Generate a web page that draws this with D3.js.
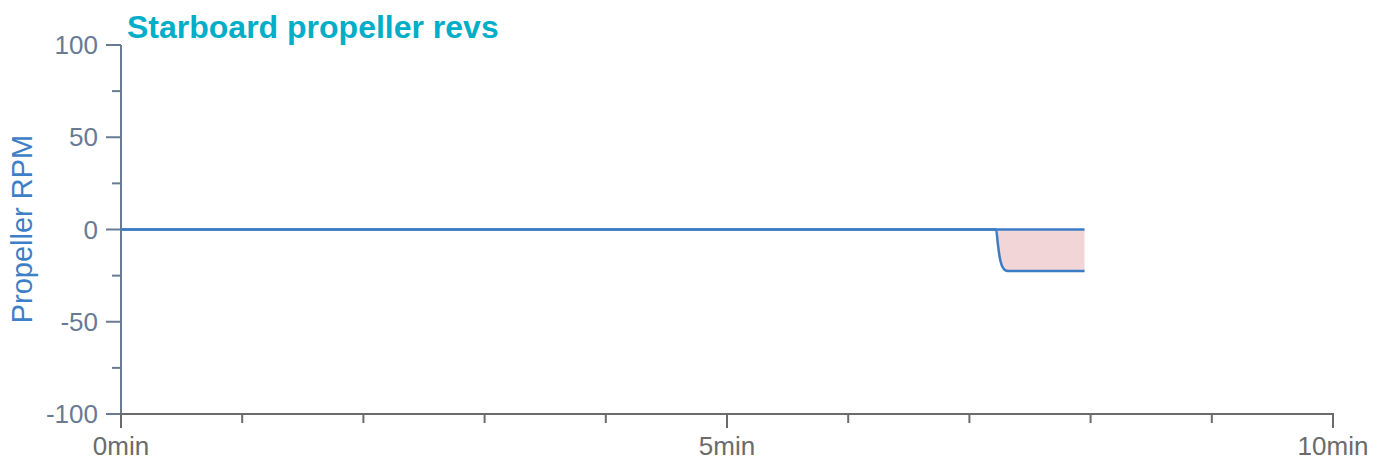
<!DOCTYPE html>
<html><head><meta charset="utf-8">
<script src="https://cdn.jsdelivr.net/npm/d3@7"></script>
<style>body{margin:0;background:#fff;font-family:"Liberation Sans",Arial,sans-serif;}</style>
</head><body><svg id="c" width="1384" height="462"></svg>
<script>
const title = "Starboard propeller revs";
const yLabel = "Propeller RPM";
const timeMin = [0, 1, 2, 3, 4, 5, 6, 7, 7.22, 7.235, 7.25, 7.265, 7.28, 7.30, 7.33, 7.40, 7.60, 7.80, 7.95];
const rpm =     [0, 0, 0, 0, 0, 0, 0, 0, 0,   -8,    -15,   -19,   -21,  -22.2, -22.5, -22.5, -22.5, -22.5, -22.5];
const yMajorTicks = [-100, -50, 0, 50, 100];
const yMinorTicks = [-75, -25, 25, 75];
const xMajorTicks = [0, 5, 10];
const xMinorTicks = [1, 2, 3, 4, 6, 7, 8, 9];

const svg = d3.select("#c");
const x = d3.scaleLinear().domain([0, 10]).range([121, 1333]);
const y = d3.scaleLinear().domain([-100, 100]).range([414, 45]);
const data = timeMin.map((t, i) => ({t, v: rpm[i]}));

// fill
svg.append("path").datum(data)
  .attr("fill", "#f2d5d7")
  .attr("d", d3.area().x(d => x(d.t)).y0(y(0)).y1(d => y(d.v)).curve(d3.curveMonotoneX));

// y axis
const yAxisColor = "#687b93";
const gy = svg.append("g").attr("transform", "translate(121,0)");
gy.append("line").attr("x1", 0).attr("x2", 0).attr("y1", 45).attr("y2", 414).attr("stroke", yAxisColor).attr("stroke-width", 2);
gy.selectAll(".ymaj").data(yMajorTicks).join("line")
  .attr("x1", -15).attr("x2", 0).attr("y1", d => y(d)).attr("y2", d => y(d))
  .attr("stroke", yAxisColor).attr("stroke-width", 2);
gy.selectAll(".ymin").data(yMinorTicks).join("line")
  .attr("x1", -9).attr("x2", 0).attr("y1", d => y(d)).attr("y2", d => y(d))
  .attr("stroke", yAxisColor).attr("stroke-width", 2);
gy.selectAll("text").data(yMajorTicks).join("text")
  .attr("x", -23).attr("y", d => y(d)).attr("dy", "0.35em")
  .attr("text-anchor", "end").attr("fill", yAxisColor)
  .style("font-size", "26px").text(d => d);

// x axis
const xAxisColor = "#6b6b6b";
const gx = svg.append("g");
gx.append("line").attr("x1", 121).attr("x2", 1334).attr("y1", 414).attr("y2", 414).attr("stroke", xAxisColor).attr("stroke-width", 2);
gx.selectAll(".xmaj").data(xMajorTicks).join("line")
  .attr("x1", d => x(d)).attr("x2", d => x(d)).attr("y1", 413).attr("y2", 428)
  .attr("stroke", xAxisColor).attr("stroke-width", 2);
gx.selectAll(".xmin").data(xMinorTicks).join("line")
  .attr("x1", d => x(d)).attr("x2", d => x(d)).attr("y1", 414).attr("y2", 423)
  .attr("stroke", xAxisColor).attr("stroke-width", 2);
gx.selectAll("text").data(xMajorTicks).join("text")
  .attr("x", d => x(d)).attr("y", 455).attr("text-anchor", "middle")
  .attr("fill", xAxisColor).style("font-size", "26px").text(d => d + "min");

// line
svg.append("path").datum(data)
  .attr("fill", "none").attr("stroke", "#3b7cc5").attr("stroke-width", 2.5)
  .attr("d", d3.line().x(d => x(d.t)).y(d => y(d.v)).curve(d3.curveMonotoneX));

// zero baseline over fill region
svg.append("line").attr("x1", x(timeMin[0])).attr("x2", x(timeMin[timeMin.length-1]))
  .attr("y1", y(0)).attr("y2", y(0)).attr("stroke", "#3b7cc5").attr("stroke-width", 2.5);

// title
svg.append("text").attr("x", 127).attr("y", 38).attr("fill", "#00aec7")
  .style("font-size", "32px").style("font-weight", "bold").text(title);

// y label
svg.append("text").attr("transform", "translate(32,229) rotate(-90)")
  .attr("text-anchor", "middle").attr("fill", "#3d7fc6")
  .style("font-size", "29px").text(yLabel);
</script></body></html>
